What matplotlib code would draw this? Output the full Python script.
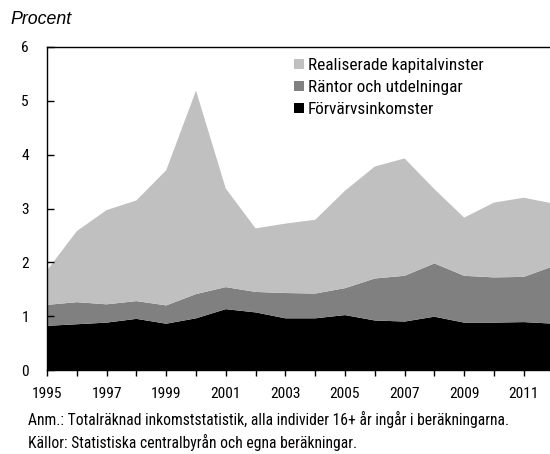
import matplotlib
matplotlib.use("Agg")
import matplotlib.pyplot as plt
from matplotlib.patches import Patch
import numpy as np

years = list(range(1995, 2013))
total_forvarv = [0.82, 0.85, 0.88, 0.95, 0.86, 0.96, 1.13, 1.07, 0.96, 0.96,
                 1.02, 0.92, 0.90, 0.99, 0.88, 0.88, 0.89, 0.86]
total_rantor = [1.21, 1.26, 1.22, 1.28, 1.20, 1.41, 1.54, 1.45, 1.43, 1.42,
                1.52, 1.70, 1.75, 1.98, 1.75, 1.72, 1.73, 1.93]
total_real = [1.85, 2.58, 2.97, 3.15, 3.71, 5.19, 3.37, 2.63, 2.72, 2.79,
              3.33, 3.78, 3.93, 3.36, 2.83, 3.11, 3.20, 3.09]

forvarv = np.array(total_forvarv)
rantor = np.array(total_rantor) - forvarv
realiserade = np.array(total_real) - np.array(total_rantor)

labels = ["Förvärvsinkomster", "Räntor och utdelningar", "Realiserade kapitalvinster"]
colors = ["#000000", "#808080", "#c0c0c0"]
note1 = "Anm.: Totalräknad inkomststatistik, alla individer 16+ år ingår i beräkningarna."
note2 = "Källor: Statistiska centralbyrån och egna beräkningar."

FAM = ['Roboto Condensed', 'DejaVu Sans']
plt.rcParams['font.family'] = FAM

W, H = 550, 454
fig = plt.figure(figsize=(5.5, 4.54), dpi=100)
renderer = fig.canvas.get_renderer()


def fit_size(text, target_px, family=FAM, style='normal', size0=12):
    t = fig.text(0, 0, text, fontsize=size0, family=family, style=style)
    w = t.get_window_extent(renderer).width
    t.remove()
    return size0 * target_px / w


tick_size = fit_size("1995", 30.5)
leg_size = fit_size(labels[2], 175)
note_size = fit_size(note1, 480)
proc_size = fit_size("Procent", 61, family=['Liberation Sans', 'DejaVu Sans'], style='italic')

ax = fig.add_axes([47/W, 1 - 370/H, (553.6 - 47)/W, (370 - 47)/H])
ax.stackplot(years, forvarv, rantor, realiserade, colors=colors, linewidth=0)

ax.set_xlim(1995, 2012)
ax.set_ylim(0, 6)
ax.set_xticks(years)
ax.set_xticklabels([str(y) if (y - 1995) % 2 == 0 else "" for y in years])
ax.set_yticks(range(0, 7))
ax.tick_params(axis='x', direction='out', length=4, width=1, labelsize=tick_size, pad=8.5)
ax.tick_params(axis='y', direction='in', length=5, width=1, labelsize=tick_size, pad=13)
ax.spines['right'].set_visible(False)
for s in ['left', 'top', 'bottom']:
    ax.spines[s].set_linewidth(1)

handles = [Patch(facecolor=colors[i], edgecolor='none', label=labels[i]) for i in [2, 1, 0]]
size_px = leg_size * 100 / 72


def make_legend(x_px, y_px, ls):
    return fig.legend(handles=handles, loc='upper left',
                      bbox_to_anchor=(x_px / W, 1 - y_px / H), bbox_transform=fig.transFigure,
                      frameon=False, fontsize=leg_size,
                      handlelength=10 / size_px, handleheight=10 / size_px,
                      handletextpad=4 / size_px, labelspacing=ls,
                      borderpad=0, borderaxespad=0)


ls = 0.25
x0, y0 = 294.0, 55.0
leg = make_legend(x0, y0, ls)
fig.canvas.draw()
ys = [H - t.get_window_extent(renderer).y0 - t.get_window_extent(renderer).height / 2
      for t in leg.get_texts()]
spacing = (ys[2] - ys[0]) / 2
ls = ls + (22 - spacing) / size_px
leg.remove()
leg = make_legend(x0, y0, ls)
fig.canvas.draw()
texts = leg.get_texts()
e0 = texts[0].get_window_extent(renderer)
first_center = H - (e0.y0 + e0.height / 2)
hx = leg.legend_handles[0].get_window_extent(renderer).x0
leg.remove()
leg = make_legend(x0 + (294 - hx), y0 + (65.7 - first_center), ls)

fig.text(10/W, 1 - 19/H, "Procent", fontsize=proc_size, style='italic',
         family=['Liberation Sans', 'DejaVu Sans'], va='center', ha='left')
fig.text(28/W, 1 - 425/H, note1, fontsize=note_size, va='baseline', ha='left')
fig.text(28/W, 1 - 448/H, note2, fontsize=note_size, va='baseline', ha='left')

fig.savefig("out.png", dpi=100)
